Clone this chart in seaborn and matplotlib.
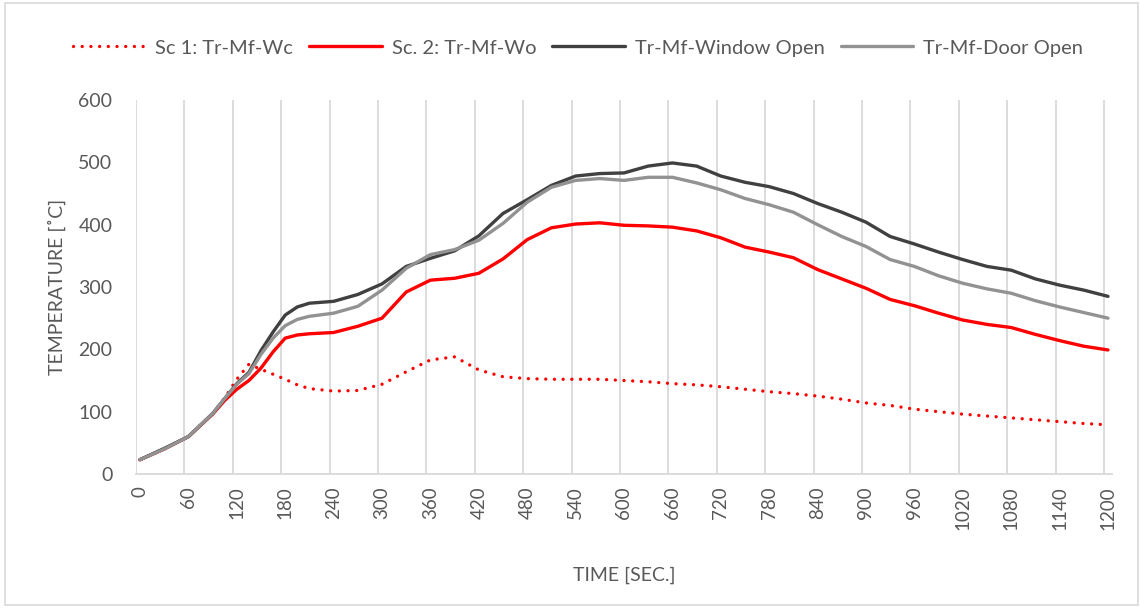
import matplotlib
matplotlib.use("Agg")
import matplotlib.pyplot as plt
import seaborn as sns
import pandas as pd
import numpy as np
from matplotlib.patches import Rectangle

# ---- data ----
time_s = [0, 30, 60, 90, 105, 120, 135, 150, 165, 180, 195, 210, 240, 270, 300, 330, 360,
          390, 420, 450, 480, 510, 540, 570, 600, 630, 660, 690, 720, 750, 780, 810, 840,
          870, 900, 930, 960, 990, 1020, 1050, 1080, 1110, 1140, 1170, 1200]

sc1_wc = [23, 40, 60, 97, 122, 152, 176, 168, 160, 152, 143, 137, 133, 134, 144, 164, 183,
          188, 167, 156, 153, 152, 152, 152, 150, 148, 145, 143, 140, 136, 132, 129, 125,
          120, 114, 110, 104, 100, 96, 93, 90, 87, 84, 81, 79]
sc2_wo = [23, 40, 60, 96, 118, 136, 150, 170, 196, 218, 223, 225, 227, 237, 250, 292, 311,
          314, 322, 345, 376, 395, 401, 403, 399, 398, 396, 390, 379, 364, 356, 347, 328,
          313, 298, 280, 270, 258, 247, 240, 235, 224, 214, 205, 199]
window_open = [23, 41, 60, 97, 121, 145, 163, 198, 228, 255, 268, 274, 277, 288, 305, 333,
               346, 358, 382, 418, 440, 463, 478, 482, 483, 494, 499, 494, 478, 468, 461,
               450, 434, 420, 404, 381, 369, 356, 344, 333, 327, 313, 303, 295, 285]
door_open = [23, 40, 60, 97, 121, 144, 161, 192, 218, 238, 248, 253, 258, 269, 295, 330,
             352, 360, 375, 402, 436, 460, 471, 474, 471, 476, 476, 467, 456, 442, 432,
             420, 400, 381, 365, 344, 333, 318, 306, 297, 290, 278, 268, 259, 250]

series_names = ["Sc 1: Tr-Mf-Wc", "Sc. 2: Tr-Mf-Wo", "Tr-Mf-Window Open", "Tr-Mf-Door Open"]
series_values = [sc1_wc, sc2_wo, window_open, door_open]
series_colors = ["#FF0000", "#FF0000", "#404040", "#929292"]

x_ticks = list(range(0, 1201, 60))
y_ticks = list(range(0, 601, 100))

# ---- figure ----
sns.set_theme(style="white")
plt.rcParams["font.family"] = ["Lato", "DejaVu Sans"]
TXT = "#595959"
GRID = "#D9D9D9"

fig = plt.figure(figsize=(11.41, 6.08), dpi=100)
ax = fig.add_axes([136 / 1141, 1 - 474 / 608, (1112 - 136) / 1141, (474 - 100) / 608])

rows = []
for name, vals in zip(series_names, series_values):
    for t, v in zip(time_s, vals):
        rows.append({"time": t, "temp": v, "series": name})
df = pd.DataFrame(rows)

lw = 2.4
handles = []
for name, col in zip(series_names, series_colors):
    sub = df[df["series"] == name]
    sns.lineplot(data=sub, x="time", y="temp", ax=ax, color=col, linewidth=lw,
                 legend=False, sort=False)
    line = ax.lines[-1]
    line.set_solid_capstyle("round")
    line.set_solid_joinstyle("round")
    if name == series_names[0]:
        line.set_linestyle((0, (0.01, 2.6)))
        line.set_dash_capstyle("round")
    handles.append(line)

ax.set_xlim(-5, 1205)
ax.set_ylim(0, 600)
ax.set_yticks(y_ticks)
ax.set_xticks(x_ticks)
ax.set_xticklabels([str(t) for t in x_ticks], rotation=90)

# vertical gridlines at category boundaries
ax.set_xticks([t - 5 for t in x_ticks], minor=True)
ax.grid(False)
ax.xaxis.grid(True, which="minor", color=GRID, linewidth=1.3)
ax.set_axisbelow(True)

for s in ["top", "right", "left"]:
    ax.spines[s].set_visible(False)
ax.spines["bottom"].set_color(GRID)
ax.spines["bottom"].set_linewidth(1.3)

ax.tick_params(axis="x", which="both", length=0, pad=9, labelsize=13.5, labelcolor=TXT)
ax.tick_params(axis="y", length=0, pad=17, labelsize=14, labelcolor=TXT)

ax.set_xlabel("TIME [SEC.]", fontsize=14, color=TXT, labelpad=26)
ax.set_ylabel("TEMPERATURE [˚C]", fontsize=14, color=TXT, labelpad=9)

leg = fig.legend(handles=handles, labels=series_names, loc="center",
                 bbox_to_anchor=(578 / 1141, 1 - 48 / 608), ncol=4, frameon=False,
                 fontsize=14.5, handlelength=3.6, handletextpad=0.5, columnspacing=0.8)
for t in leg.get_texts():
    t.set_color(TXT)

fig.patches.append(Rectangle((5 / 1141, 3 / 608), 1133 / 1141, 602 / 608,
                             transform=fig.transFigure, fill=False,
                             edgecolor=GRID, linewidth=1.2))

fig.savefig("out.png", dpi=100, facecolor="white")
